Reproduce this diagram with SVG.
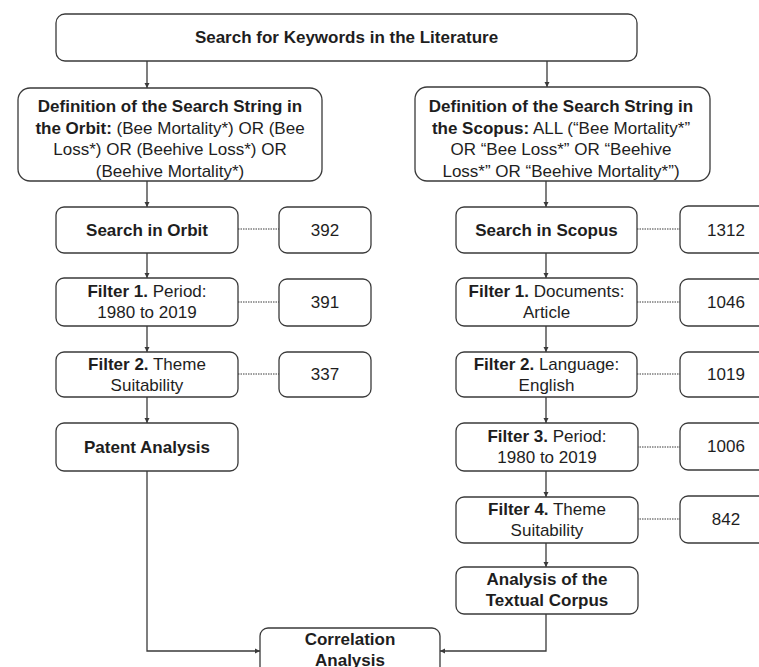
<svg xmlns="http://www.w3.org/2000/svg" width="759" height="667" viewBox="0 0 759 667">
<style>
.box{fill:#fff;stroke:#3a3a3a;stroke-width:1.3}
.t{font-family:"Liberation Sans",Arial,sans-serif;font-size:17px;fill:#1e1e1e;text-anchor:middle}
.b{font-weight:bold}
.c{fill:none;stroke:#3a3a3a;stroke-width:1.3}
.d{fill:none;stroke:#3a3a3a;stroke-width:1;stroke-dasharray:1.5 1}
</style>
<defs>
<marker id="ah" markerWidth="6" markerHeight="6" refX="5" refY="3" orient="auto" markerUnits="userSpaceOnUse">
<path d="M0,0.5 L5,3 L0,5.5 Z" fill="#3a3a3a"/>
</marker>
</defs>
<rect width="759" height="667" fill="#fff"/>
<g id="connectors">
<path class="c" d="M147,61 V88" marker-end="url(#ah)"/>
<path class="c" d="M547,61 V87" marker-end="url(#ah)"/>
<path class="c" d="M147,181 V207" marker-end="url(#ah)"/>
<path class="c" d="M546,181 V207" marker-end="url(#ah)"/>
<path class="c" d="M147,253 V278" marker-end="url(#ah)"/>
<path class="c" d="M147,326 V352" marker-end="url(#ah)"/>
<path class="c" d="M147,397 V423" marker-end="url(#ah)"/>
<path class="c" d="M546,253 V278" marker-end="url(#ah)"/>
<path class="c" d="M546,326 V352" marker-end="url(#ah)"/>
<path class="c" d="M546,397 V423" marker-end="url(#ah)"/>
<path class="c" d="M546,471 V497" marker-end="url(#ah)"/>
<path class="c" d="M546,543 V567" marker-end="url(#ah)"/>
<path class="c" d="M147,471 V651 H260" marker-end="url(#ah)"/>
<path class="c" d="M546,614 V651 H440" marker-end="url(#ah)"/>
<path class="d" d="M238,229 H279"/>
<path class="d" d="M238,302 H279"/>
<path class="d" d="M238,374 H279"/>
<path class="d" d="M637,229 H680"/>
<path class="d" d="M637,302 H680"/>
<path class="d" d="M637,374 H680"/>
<path class="d" d="M637,447 H680"/>
<path class="d" d="M637,519 H680"/>
</g>
<g id="top">
<rect class="box" x="56" y="14" width="581" height="47" rx="9"/>
<text class="t b" x="346.5" y="43">Search for Keywords in the Literature</text>
</g>
<g id="def-orbit">
<rect class="box" x="18" y="88" width="304" height="93" rx="12"/>
<text class="t" x="170" y="112"><tspan class="b">Definition of the Search String in</tspan></text>
<text class="t" x="170" y="133.5"><tspan class="b">the Orbit:</tspan> (Bee Mortality*) OR (Bee</text>
<text class="t" x="170" y="155">Loss*) OR (Beehive Loss*) OR</text>
<text class="t" x="170" y="176.5">(Beehive Mortality*)</text>
</g>
<g id="def-scopus">
<rect class="box" x="415" y="87" width="295" height="94" rx="12"/>
<text class="t" x="561" y="112"><tspan class="b">Definition of the Search String in</tspan></text>
<text class="t" x="561" y="133.5"><tspan class="b">the Scopus:</tspan> ALL (“Bee Mortality*”</text>
<text class="t" x="561" y="155">OR “Bee Loss*” OR “Beehive</text>
<text class="t" x="561" y="176.5">Loss*” OR “Beehive Mortality*”)</text>
</g>
<g id="search-orbit">
<rect class="box" x="56" y="207" width="182" height="46" rx="8"/>
<text class="t b" x="147" y="236">Search in Orbit</text>
</g>
<g id="n392">
<rect class="box" x="279" y="207" width="92" height="46" rx="8"/>
<text class="t" x="325" y="236">392</text>
</g>
<g id="orbit-f1">
<rect class="box" x="56" y="278" width="182" height="48" rx="8"/>
<text class="t" x="147" y="297"><tspan class="b">Filter 1.</tspan> Period:</text>
<text class="t" x="147" y="318">1980 to 2019</text>
</g>
<g id="n391">
<rect class="box" x="279" y="279" width="92" height="47" rx="8"/>
<text class="t" x="325" y="308">391</text>
</g>
<g id="orbit-f2">
<rect class="box" x="56" y="352" width="182" height="45" rx="8"/>
<text class="t" x="147" y="370"><tspan class="b">Filter 2.</tspan> Theme</text>
<text class="t" x="147" y="391">Suitability</text>
</g>
<g id="n337">
<rect class="box" x="279" y="352" width="92" height="45" rx="8"/>
<text class="t" x="325" y="380">337</text>
</g>
<g id="patent">
<rect class="box" x="56" y="423" width="182" height="48" rx="8"/>
<text class="t b" x="147" y="453">Patent Analysis</text>
</g>
<g id="search-scopus">
<rect class="box" x="456" y="207" width="181" height="46" rx="8"/>
<text class="t b" x="546.5" y="236">Search in Scopus</text>
</g>
<g id="n1312">
<rect class="box" x="680" y="206" width="92" height="47" rx="8"/>
<text class="t" x="726" y="236">1312</text>
</g>
<g id="scopus-f1">
<rect class="box" x="456" y="278" width="181" height="48" rx="8"/>
<text class="t" x="546.5" y="297"><tspan class="b">Filter 1.</tspan> Documents:</text>
<text class="t" x="546.5" y="318">Article</text>
</g>
<g id="n1046">
<rect class="box" x="680" y="279" width="92" height="47" rx="8"/>
<text class="t" x="726" y="308">1046</text>
</g>
<g id="scopus-f2">
<rect class="box" x="456" y="352" width="181" height="45" rx="8"/>
<text class="t" x="546.5" y="370"><tspan class="b">Filter 2.</tspan> Language:</text>
<text class="t" x="546.5" y="391">English</text>
</g>
<g id="n1019">
<rect class="box" x="680" y="352" width="92" height="45" rx="8"/>
<text class="t" x="726" y="380">1019</text>
</g>
<g id="scopus-f3">
<rect class="box" x="456" y="423" width="182" height="48" rx="8"/>
<text class="t" x="547" y="442"><tspan class="b">Filter 3.</tspan> Period:</text>
<text class="t" x="547" y="463">1980 to 2019</text>
</g>
<g id="n1006">
<rect class="box" x="680" y="423" width="92" height="47" rx="8"/>
<text class="t" x="726" y="452">1006</text>
</g>
<g id="scopus-f4">
<rect class="box" x="456" y="497" width="182" height="46" rx="8"/>
<text class="t" x="547" y="515"><tspan class="b">Filter 4.</tspan> Theme</text>
<text class="t" x="547" y="536">Suitability</text>
</g>
<g id="n842">
<rect class="box" x="680" y="496" width="92" height="47" rx="8"/>
<text class="t" x="726" y="525">842</text>
</g>
<g id="textual">
<rect class="box" x="456" y="567" width="182" height="47" rx="8"/>
<text class="t b" x="547" y="585">Analysis of the</text>
<text class="t b" x="547" y="606">Textual Corpus</text>
</g>
<g id="correlation">
<rect class="box" x="260" y="628" width="180" height="60" rx="8"/>
<text class="t b" x="350" y="645">Correlation</text>
<text class="t b" x="350" y="666">Analysis</text>
</g>
</svg>
